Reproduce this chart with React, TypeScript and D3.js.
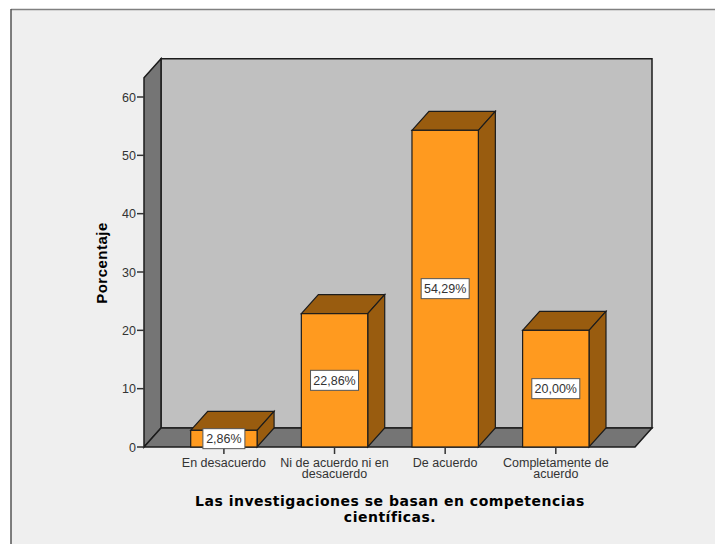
import React from "react";
import * as d3 from "d3";

const categories: string[][] = [["En desacuerdo"], ["Ni de acuerdo ni en", "desacuerdo"], ["De acuerdo"], ["Completamente de", "acuerdo"]];
const values = [2.86, 22.86, 54.29, 20.0];
const valueLabels = ["2,86%", "22,86%", "54,29%", "20,00%"];
const yTicks = [0, 10, 20, 30, 40, 50, 60];
const yTitle = "Porcentaje";
const xTitle = ["Las investigaciones se basan en competencias", "científicas."];

const DX = 17;
const DY = -19;
const EDGE = "#1c1c1c";
const FONT = "'Liberation Sans', Arial, sans-serif";

export default function App() {
  const y = d3.scaleLinear().domain([0, 60]).range([447, 97]);
  const yTop = y(63.3);
  const x = d3.scaleBand<number>().domain(d3.range(4)).range([190.7, 589]).paddingInner(0.4).paddingOuter(0);
  const xL = 144, xR = 635, y0 = y(0);
  const poly = (pts: number[][]) => d3.line()(pts as [number, number][]) + "Z";
  return (
    <svg width={715} height={544} style={{ position: "fixed", left: 0, top: 0, display: "block" }}>
      <rect x={0} y={0} width={715} height={544} fill="#ffffff" />
      <rect x={11} y={9} width={704} height={535} fill="#efefef" />
      <line x1={11} x2={715} y1={9.5} y2={9.5} stroke="#808080" strokeWidth={1.5} />
      <line x1={11} x2={11} y1={9} y2={544} stroke="#555555" strokeWidth={1.5} />
      {/* walls */}
      <path d={poly([[xL + DX, yTop + DY], [xR + DX, yTop + DY], [xR + DX, y0 + DY], [xL + DX, y0 + DY]])} fill="#c0c0c0" stroke={EDGE} strokeWidth={1.5} />
      <path d={poly([[xL, yTop], [xL + DX, yTop + DY], [xL + DX, y0 + DY], [xL, y0]])} fill="#757575" stroke={EDGE} strokeWidth={1.5} />
      <path d={poly([[xL, y0], [xL + DX, y0 + DY], [xR + DX, y0 + DY], [xR, y0]])} fill="#757575" stroke={EDGE} strokeWidth={1.5} />
      {/* y axis */}
      {yTicks.map((t) => (
        <g key={t}>
          <line x1={xL - 7} x2={xL} y1={y(t)} y2={y(t)} stroke="#333" strokeWidth={1.5} />
          <text x={xL - 8} y={y(t) + 4.5} textAnchor="end" fontFamily={FONT} fontSize={12.5} fill="#333">{t}</text>
        </g>
      ))}
      <text transform="translate(107,263) rotate(-90)" textAnchor="middle" fontFamily={FONT} fontSize={15} fontWeight="bold" fill="#000" letterSpacing={0.5}>{yTitle}</text>
      {/* bars */}
      {values.map((v, i) => {
        const l = x(i)!, r = l + x.bandwidth(), t = y(v);
        const cx = (l + r) / 2;
        return (
          <g key={i}>
            <path d={poly([[l, t], [l + DX, t + DY], [r + DX, t + DY], [r, t]])} fill="#995c0f" stroke={EDGE} strokeWidth={1.2} />
            <path d={poly([[r, t], [r + DX, t + DY], [r + DX, y0 + DY], [r, y0]])} fill="#995c0f" stroke={EDGE} strokeWidth={1.2} />
            <rect x={l} y={t} width={r - l} height={y0 - t} fill="#ff9a1f" stroke={EDGE} strokeWidth={1.2} />
            <line x1={cx} x2={cx} y1={y0} y2={y0 + 7} stroke="#333" strokeWidth={1.5} />
            {categories[i].map((s, k) => (
              <text key={k} x={cx} y={467 + k * 11} textAnchor="middle" fontFamily={FONT} fontSize={12.5} fill="#333">{s}</text>
            ))}
          </g>
        );
      })}
      {/* value labels */}
      {values.map((v, i) => {
        const cx = x(i)! + x.bandwidth() / 2;
        const w = i === 0 ? 42 : 48;
        const cy = (y(v) + y0) / 2;
        return (
          <g key={i}>
            <rect x={cx - w / 2} y={cy - 10} width={w} height={20} fill="#ffffff" stroke="#555" strokeWidth={1} />
            <text x={cx} y={cy + 4.5} textAnchor="middle" fontFamily={FONT} fontSize={12.5} fill="#333">{valueLabels[i]}</text>
          </g>
        );
      })}
      {xTitle.map((s, k) => (
        <text key={k} x={390} y={506 + k * 16} textAnchor="middle" fontFamily="'DejaVu Sans', Verdana, sans-serif" fontSize={14} fontWeight="bold" fill="#000" letterSpacing={0.5}>{s}</text>
      ))}
    </svg>
  );
}
